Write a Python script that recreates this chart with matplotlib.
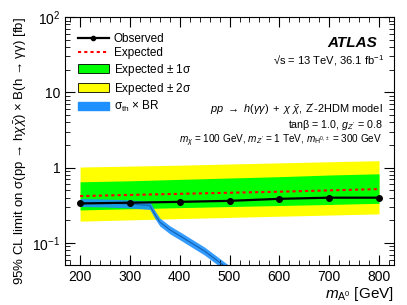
import numpy as np
import matplotlib
matplotlib.use('Agg')
import matplotlib.pyplot as plt
from matplotlib.patches import Patch
from matplotlib.lines import Line2D
from matplotlib.ticker import LogLocator, MultipleLocator, FixedLocator, FixedFormatter

plt.rcParams['font.family'] = ['Liberation Sans', 'DejaVu Sans']
plt.rcParams['mathtext.fontset'] = 'custom'
plt.rcParams['mathtext.rm'] = 'Liberation Sans'
plt.rcParams['mathtext.it'] = 'Liberation Sans:italic'
plt.rcParams['mathtext.bf'] = 'Liberation Sans:bold'

# limit points
mass = [200, 300, 400, 500, 600, 700, 800]
observed = [0.335, 0.343, 0.352, 0.363, 0.386, 0.40, 0.40]
expected = [0.42, 0.435, 0.45, 0.465, 0.48, 0.50, 0.52]
exp_1s_lo = [0.275, 0.285, 0.295, 0.305, 0.315, 0.325, 0.337]
exp_1s_hi = [0.65, 0.67, 0.70, 0.73, 0.76, 0.80, 0.83]
exp_2s_lo = [0.195, 0.203, 0.211, 0.219, 0.227, 0.235, 0.244]
exp_2s_hi = [1.02, 1.05, 1.08, 1.12, 1.16, 1.20, 1.24]

# theory cross section x BR
th_mass = [200, 250, 300, 340, 350, 360, 380, 400, 450, 500]
th_xsec = [0.345, 0.34, 0.33, 0.315, 0.24, 0.19, 0.15, 0.125, 0.078, 0.044]
th_unc = 1.13

fig = plt.figure(figsize=(4.07, 3.05), dpi=100)
ax = fig.add_axes([0.160, 0.131, 0.808, 0.813])

ax.fill_between(mass, exp_2s_lo, exp_2s_hi, color='#ffff00', lw=0)
ax.fill_between(mass, exp_1s_lo, exp_1s_hi, color='#00ff00', lw=0)
th = np.array(th_xsec)
ax.fill_between(th_mass, th / th_unc, th * th_unc, color='#1e90ff', lw=0, alpha=0.9)
ax.plot(th_mass, th_xsec, color='#1060b0', lw=0.8)
ax.plot(mass, expected, color='red', ls=(0, (1.5, 1.5)), lw=1.5)
ax.plot(mass, observed, color='black', lw=1.6, marker='o', ms=4)

ax.set_yscale('log')
ax.set_xlim(170, 830)
ax.set_ylim(0.051, 100)

ax.xaxis.set_major_locator(MultipleLocator(100))
ax.xaxis.set_minor_locator(MultipleLocator(20))
ax.yaxis.set_major_locator(FixedLocator([0.1, 1, 10, 100]))
ax.yaxis.set_major_formatter(FixedFormatter([r'$10^{-1}$', '1', '10', r'$10^{2}$']))
ax.yaxis.set_minor_locator(LogLocator(base=10, subs=np.arange(2, 10)))
ax.yaxis.set_minor_formatter(plt.NullFormatter())
ax.tick_params(which='both', direction='in', top=True, right=True, labelsize=10)
ax.tick_params(which='major', length=7)
ax.tick_params(which='minor', length=3.5)

ax.set_xlabel(r'$m_{\mathrm{A}^0}$ [GeV]', fontsize=11, loc='right', labelpad=1)
ax.set_ylabel(r'95% CL limit on σ(pp → h$\chi\bar{\chi}$) × B(h → γγ) [fb]',
              fontsize=9.5, loc='top', labelpad=2)

handles = [
    Line2D([], [], color='black', lw=1.6, marker='o', ms=3),
    Line2D([], [], color='red', ls=(0, (1.5, 1.5)), lw=1.5),
    Patch(facecolor='#00ff00', edgecolor='black', lw=0.6),
    Patch(facecolor='#ffff00', edgecolor='black', lw=0.6),
    Patch(facecolor='#1e90ff', edgecolor='#1e90ff'),
]
labels = ['Observed', 'Expected', r'Expected $\pm$ 1σ', r'Expected $\pm$ 2σ',
          r'$\mathrm{σ_{th}}$ × BR']
ax.legend(handles, labels, loc='upper left', bbox_to_anchor=(0.01, 0.975), frameon=False,
          fontsize=8.5, handlelength=2.6, handleheight=0.75, handletextpad=0.45,
          labelspacing=0.22, borderaxespad=0.4)

ax.text(0.95, 0.895, 'ATLAS', transform=ax.transAxes, ha='right', va='center',
        fontsize=11, fontweight='bold', fontstyle='italic')
ax.text(0.97, 0.825, r'√s = 13 TeV, 36.1 fb$^{-1}$', transform=ax.transAxes,
        ha='right', va='center', fontsize=8)
ax.text(0.965, 0.63, r'$pp\ \rightarrow\ h(\gamma\gamma)\ +\ \chi\ \bar{\chi}$, Z$^{\prime}$-2HDM model',
        transform=ax.transAxes, ha='right', va='center', fontsize=7.9)
ax.text(0.965, 0.565, r'tanβ = 1.0, $g_{Z^{\prime}}$ = 0.8', transform=ax.transAxes,
        ha='right', va='center', fontsize=7.7)
ax.text(0.965, 0.50, r'$m_{\chi}$ = 100 GeV, $m_{Z^{\prime}}$ = 1 TeV, $m_{\mathrm{H}^{0,\pm}}$ = 300 GeV',
        transform=ax.transAxes, ha='right', va='center', fontsize=7.2)

fig.savefig('out.png', dpi=100)
